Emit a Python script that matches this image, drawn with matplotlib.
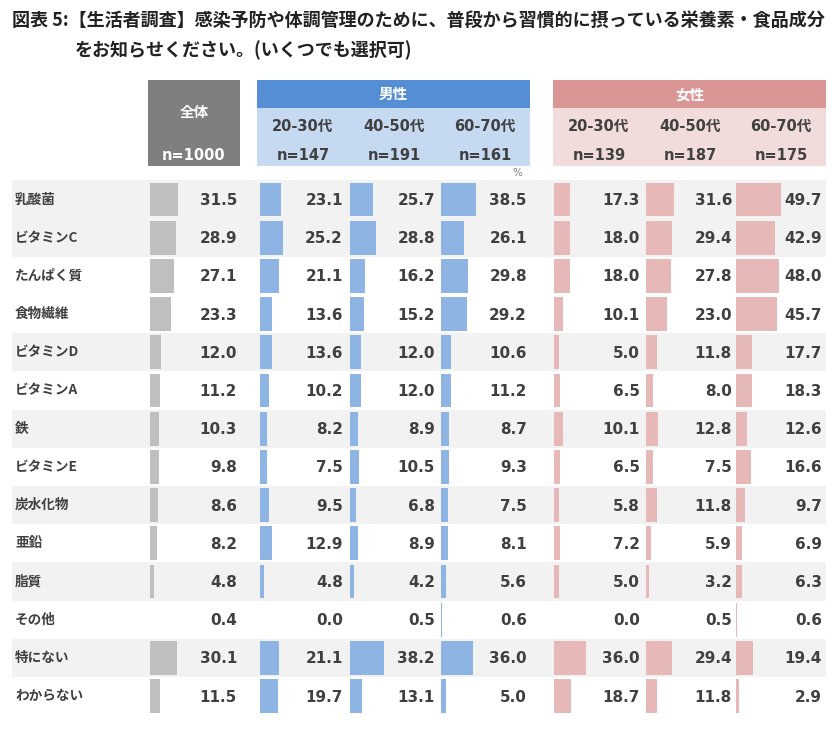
import matplotlib
matplotlib.use('Agg')
import matplotlib.pyplot as plt
from matplotlib.patches import Rectangle

plt.rcParams['font.family'] = ['Noto Sans CJK JP', 'DejaVu Sans']

# データ（%）
items = ['乳酸菌', 'ビタミンC', 'たんぱく質', '食物繊維', 'ビタミンD', 'ビタミンA', '鉄',
         'ビタミンE', '炭水化物', '亜鉛', '脂質', 'その他', '特にない', 'わからない']
total = [31.5, 28.9, 27.1, 23.3, 12.0, 11.2, 10.3, 9.8, 8.6, 8.2, 4.8, 0.4, 30.1, 11.5]
male_2030 = [23.1, 25.2, 21.1, 13.6, 13.6, 10.2, 8.2, 7.5, 9.5, 12.9, 4.8, 0.0, 21.1, 19.7]
male_4050 = [25.7, 28.8, 16.2, 15.2, 12.0, 12.0, 8.9, 10.5, 6.8, 8.9, 4.2, 0.5, 38.2, 13.1]
male_6070 = [38.5, 26.1, 29.8, 29.2, 10.6, 11.2, 8.7, 9.3, 7.5, 8.1, 5.6, 0.6, 36.0, 5.0]
female_2030 = [17.3, 18.0, 18.0, 10.1, 5.0, 6.5, 10.1, 6.5, 5.8, 7.2, 5.0, 0.0, 36.0, 18.7]
female_4050 = [31.6, 29.4, 27.8, 23.0, 11.8, 8.0, 12.8, 7.5, 11.8, 5.9, 3.2, 0.5, 29.4, 11.8]
female_6070 = [49.7, 42.9, 48.0, 45.7, 17.7, 18.3, 12.6, 16.6, 9.7, 6.9, 6.3, 0.6, 19.4, 2.9]

age_labels = ['20-30代', '40-50代', '60-70代']
n_total = 1000
n_male = [147, 191, 161]
n_female = [139, 187, 175]

title1 = '図表 5:【生活者調査】感染予防や体調管理のために、普段から習慣的に摂っている栄養素・食品成分'
title2 = 'をお知らせください。(いくつでも選択可)'

# 行の背景（1=グレー）
shaded = [1, 1, 0, 0, 1, 0, 1, 0, 1, 0, 1, 0, 1, 0]

# レイアウト（ピクセル）
row0, pitch = 199.5, 38.2
px_per_pct = 0.9
txt = '#404040'

columns = [
    # (series, bar start x, value right x, bar color)
    (total, 150, 237, '#bfbfbf'),
    (male_2030, 260, 343, '#8db4e2'),
    (male_4050, 350, 435, '#8db4e2'),
    (male_6070, 441, 527, '#8db4e2'),
    (female_2030, 554, 640, '#e6b9b8'),
    (female_4050, 646, 732, '#e6b9b8'),
    (female_6070, 736, 822, '#e6b9b8'),
]

fig = plt.figure(figsize=(8.4, 7.34), dpi=100)
ax = fig.add_axes([0, 0, 1, 1])
ax.set_xlim(0, 840)
ax.set_ylim(734, 0)
ax.axis('off')

# タイトル
ax.text(12, 20, title1, fontsize=13, fontweight='bold', color='#222222', va='center', ha='left')
ax.text(75, 50, title2, fontsize=13, fontweight='bold', color='#222222', va='center', ha='left')

# ヘッダー
ax.add_patch(Rectangle((148, 80), 92, 86, color='#7f7f7f', lw=0))
ax.text(194, 112, '全体', fontsize=10.5, fontweight='bold', color='white', ha='center', va='center')
ax.text(194, 155, f'n={n_total}', fontsize=10.5, fontweight='bold', color='white',
        ha='center', va='center', family=['DejaVu Sans'])

groups = [
    ('男性', 257, '#558ed5', '#c5d9f1', [303, 394, 485], n_male),
    ('女性', 553, '#da9694', '#f2dcdb', [599, 690, 781], n_female),
]
for name, x0, dark, light, centers, ns in groups:
    ax.add_patch(Rectangle((x0, 80), 273, 28, color=dark, lw=0))
    ax.add_patch(Rectangle((x0, 108), 273, 58, color=light, lw=0))
    ax.text(x0 + 136.5, 94, name, fontsize=10.5, fontweight='bold', color='white',
            ha='center', va='center')
    for cx, lab, n in zip(centers, age_labels, ns):
        ax.text(cx, 126, lab, fontsize=10.5, fontweight='bold', color=txt,
                ha='center', va='center', family=['DejaVu Sans', 'Noto Sans CJK JP'])
        ax.text(cx, 155, f'n={n}', fontsize=10.5, fontweight='bold', color=txt,
                ha='center', va='center', family=['DejaVu Sans'])

ax.text(517, 173, '%', fontsize=7.5, color='#7f7f7f', ha='center', va='center',
        family=['DejaVu Sans'])

# 行背景と項目名
ys = [row0 + i * pitch for i in range(len(items))]
for y, lab, s in zip(ys, items, shaded):
    if s:
        ax.add_patch(Rectangle((12, y - pitch / 2), 814, pitch, color='#f2f2f2', lw=0, zorder=0))
    ax.text(15, y, lab, fontsize=9.8, fontweight='bold', color=txt, ha='left', va='center')

# 棒と数値
for vals, bx, tx, color in columns:
    ax.barh(ys, [v * px_per_pct for v in vals], left=bx, height=pitch * 0.89,
            color=color, lw=0, zorder=2)
    for y, v in zip(ys, vals):
        ax.text(tx, y + 1, f'{v:.1f}', fontsize=11, fontweight='bold', color=txt,
                ha='right', va='center', family=['DejaVu Sans'], zorder=3)

fig.savefig('out.png', dpi=100)
